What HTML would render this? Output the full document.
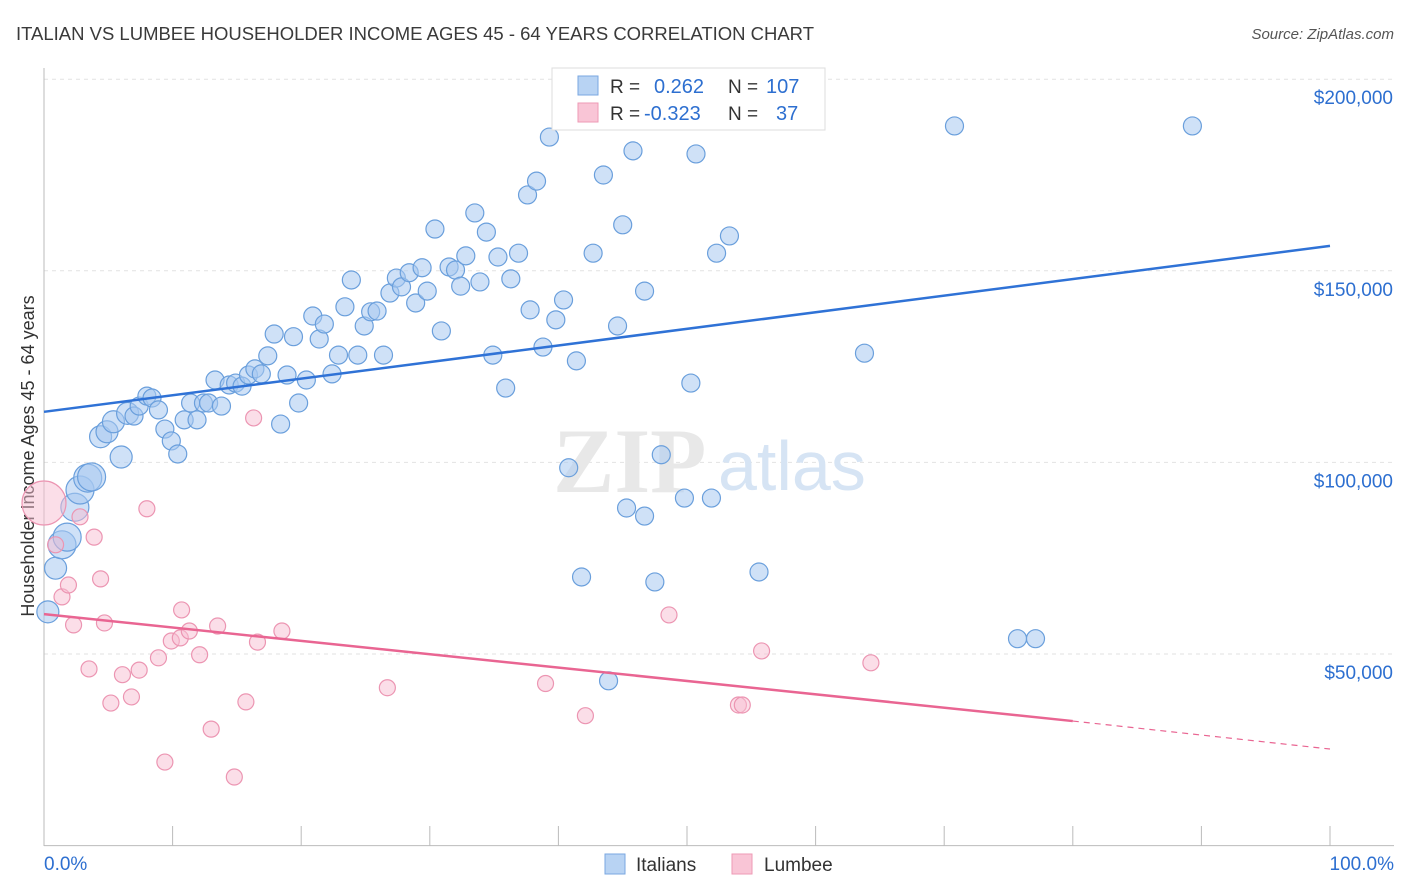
<!DOCTYPE html>
<html><head><meta charset="utf-8"><style>
body{margin:0;background:#fff;font-family:"Liberation Sans",sans-serif}
svg{display:block}
</style></head><body>
<svg id="chart" width="1406" height="892" viewBox="0 0 1406 892" xmlns="http://www.w3.org/2000/svg">
<text x="16" y="40" font-size="18" fill="#3a3a3a" textLength="798" lengthAdjust="spacingAndGlyphs">ITALIAN VS LUMBEE HOUSEHOLDER INCOME AGES 45 - 64 YEARS CORRELATION CHART</text>
<text x="1394" y="39" font-size="15" fill="#555" text-anchor="end" font-style="italic">Source: ZipAtlas.com</text>
<text x="0" y="0" transform="translate(34,456) rotate(-90)" font-size="18" fill="#333" text-anchor="middle">Householder Income Ages 45 - 64 years</text>
<g id="grid"></g>
<g id="axes"></g>
<text x="553" y="492" font-size="92" fill="#e8e8e8" font-weight="bold" font-family="Liberation Serif,serif">ZIP</text>
<text x="718" y="490" font-size="70" fill="#d6e4f4">atlas</text>
<g id="pts"></g>
<g id="trends"></g>
<g>
<rect x="552" y="68" width="273" height="62" fill="#fff" stroke="#ddd"/>
<rect x="578" y="76" width="20" height="19" fill="#b8d3f3" stroke="#7aa7e0"/>
<rect x="578" y="103" width="20" height="19" fill="#f9c5d6" stroke="#ee9ab5"/>
<text x="610" y="93" font-size="19" fill="#333">R =</text><text x="654" y="93" font-size="20" fill="#2d6fd0">0.262</text>
<text x="728" y="93" font-size="19" fill="#333">N =</text><text x="766" y="93" font-size="20" fill="#2d6fd0">107</text>
<text x="610" y="120" font-size="19" fill="#333">R =</text><text x="644" y="120" font-size="20" fill="#2d6fd0">-0.323</text>
<text x="728" y="120" font-size="19" fill="#333">N =</text><text x="776" y="120" font-size="20" fill="#2d6fd0">37</text>
</g>
<g>
<rect x="605" y="854" width="20" height="20" fill="#b8d3f3" stroke="#7aa7e0"/>
<text x="636" y="871" font-size="19" fill="#333">Italians</text>
<rect x="732" y="854" width="20" height="20" fill="#f9c5d6" stroke="#ee9ab5"/>
<text x="764" y="871" font-size="19" fill="#333">Lumbee</text>
</g>
</svg>
<script>
const yTicks=[50000,100000,150000,200000];
const yTickLabels=["$50,000","$100,000","$150,000","$200,000"];
const xTickLabels=["0.0%","100.0%"];
const blueX=[0.3,0.9,1.4,1.8,2.4,2.8,3.4,3.7,4.4,4.9,5.4,6.0,6.5,7.0,7.4,8.0,8.4,8.9,9.4,9.9,10.4,10.9,11.4,11.9,12.4,12.8,13.3,13.8,14.4,14.9,15.4,15.9,16.4,16.9,17.4,17.9,18.4,18.9,19.4,19.8,20.4,20.9,21.4,21.8,22.4,22.9,23.4,23.9,24.4,24.9,25.4,25.9,26.4,26.9,27.4,27.8,28.4,28.9,29.4,29.8,30.4,30.9,31.5,32.0,32.4,32.8,33.5,33.9,34.4,34.9,35.3,35.9,36.3,36.9,37.6,37.8,38.3,38.8,39.3,39.8,40.4,40.8,41.4,41.8,42.7,43.5,43.9,44.6,45.0,45.3,45.8,46.7,46.7,47.5,48.0,49.8,50.3,50.7,51.9,52.3,53.3,55.6,63.8,70.8,75.7,77.1,89.3];
const blueY=[61.0,72.4,78.5,80.5,88.3,92.8,95.9,96.2,106.7,108.0,110.6,101.4,112.8,112.1,114.7,117.3,116.8,113.7,108.7,105.6,102.2,111.1,115.5,111.1,115.5,115.5,121.5,114.7,120.2,120.7,119.9,122.8,124.4,123.1,127.8,133.5,110.0,122.8,132.8,115.5,121.5,138.2,132.2,136.1,123.1,128.0,140.6,147.6,128.0,135.6,139.3,139.5,128.0,144.2,148.1,145.8,149.5,141.6,150.8,144.7,160.9,134.3,151.0,150.2,146.0,153.9,165.1,147.1,160.1,128.0,153.6,119.4,147.9,154.6,169.8,139.8,173.4,130.1,184.9,137.2,142.4,98.6,126.5,70.1,154.6,175.0,43.0,135.6,162.0,88.1,181.3,144.7,86.0,68.8,102.0,90.7,120.7,180.5,90.7,154.6,159.1,71.4,128.5,187.8,54.0,54.0,187.8];
const pinkX=[0,0.9,1.4,1.9,2.3,2.8,3.5,3.9,4.4,4.7,5.2,6.1,6.8,7.4,8.0,8.9,9.4,9.9,10.6,10.7,11.3,12.1,13.0,13.5,14.8,15.7,16.3,16.6,18.5,26.7,39.0,42.1,48.6,54.0,54.3,55.8,64.3];
const pinkY=[89.4,78.5,64.9,68.0,57.6,85.8,46.1,80.5,69.6,58.1,37.2,44.6,38.8,45.8,87.9,49.0,21.8,53.4,54.2,61.5,56.0,49.8,30.4,57.3,17.9,37.5,111.6,53.1,56.0,41.2,42.3,33.9,60.2,36.7,36.7,50.8,47.7];
const blueTrend=[[0,113.2],[100,156.5]];
const pinkTrend=[[0,60.4],[80,32.5],[100,25.2]];
const NS="http://www.w3.org/2000/svg";
const xs=v=>44+v*12.86;
const ys=v=>845.6-v*1000/50000*191.6;
function mk(t,a,p){const e=document.createElementNS(NS,t);for(const k in a)e.setAttribute(k,a[k]);p.appendChild(e);return e;}
const grid=document.getElementById('grid'),axes=document.getElementById('axes');
yTicks.forEach((t,i)=>{const y=ys(t/1000);
const l=mk('line',{x1:44,x2:1394,y1:y,y2:y,stroke:'#e2e2e2','stroke-dasharray':'4,4'},grid);


const tx=mk('text',{x:1393,y:y+25,'font-size':19,fill:'#2d6fd0','text-anchor':'end'},axes);tx.textContent=yTickLabels[i];

});
mk('line',{x1:44,x2:1394,y1:ys(0),y2:ys(0),stroke:'#bbb'},axes);
mk('line',{x1:44,x2:44,y1:68,y2:ys(0),stroke:'#bbb'},axes);
for(let i=0;i<=10;i++){const x=xs(i*10);const t=mk('line',{x1:x,x2:x,y1:826,y2:846,stroke:'#bbb'},axes);

}
const x0=mk('text',{x:44,y:870,'font-size':19,fill:'#2d6fd0'},axes);x0.textContent=xTickLabels[0];


const x1=mk('text',{x:1394,y:870,'font-size':19,fill:'#2d6fd0','text-anchor':'end'},axes);x1.textContent=xTickLabels[1];


const pts=document.getElementById('pts');
blueX.forEach((v,i)=>{const r=v<1?11:v<4?14:v<7?11:9;
const c=mk('circle',{cx:xs(v),cy:ys(blueY[i]),r:r,fill:'rgba(168,200,240,0.55)',stroke:'#6a9fdc','stroke-width':1.2},pts);

});
pinkX.forEach((v,i)=>{const r=v<0.5?22:8;
const c=mk('circle',{cx:xs(v),cy:ys(pinkY[i]),r:r,fill:'rgba(248,190,210,0.5)',stroke:'#ec95b2','stroke-width':1.2},pts);

});
const tr=document.getElementById('trends');
const b=mk('line',{x1:xs(blueTrend[0][0]),y1:ys(blueTrend[0][1]),x2:xs(blueTrend[1][0]),y2:ys(blueTrend[1][1]),stroke:'#2f72d6','stroke-width':2.5},tr);


const p=mk('line',{x1:xs(pinkTrend[0][0]),y1:ys(pinkTrend[0][1]),x2:xs(pinkTrend[1][0]),y2:ys(pinkTrend[1][1]),stroke:'#e96592','stroke-width':2.5},tr);


const pd=mk('line',{x1:xs(pinkTrend[1][0]),y1:ys(pinkTrend[1][1]),x2:xs(pinkTrend[2][0]),y2:ys(pinkTrend[2][1]),stroke:'#e96592','stroke-width':1.2,'stroke-dasharray':'6,5'},tr);


</script>
</body></html>
